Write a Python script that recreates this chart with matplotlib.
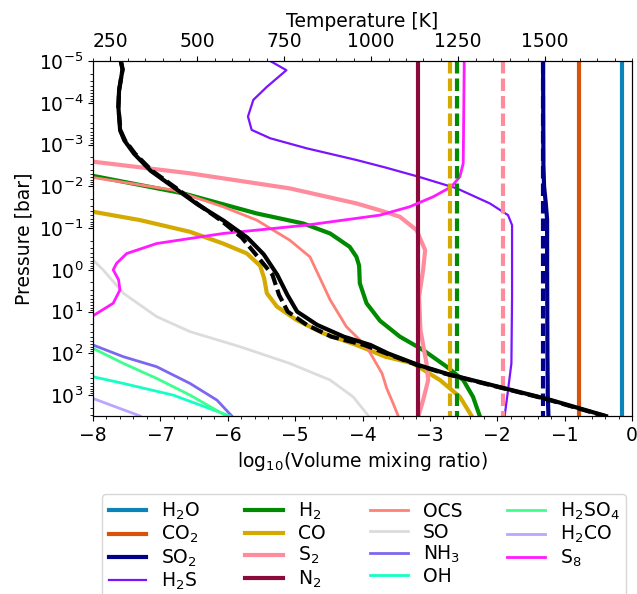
import numpy as np
import matplotlib
matplotlib.use("Agg")
import matplotlib.pyplot as plt
from matplotlib.ticker import MultipleLocator, LogLocator, NullFormatter

plt.rcParams['font.family'] = ['DejaVu Sans']
plt.rcParams['font.size'] = 13.5

# ---------------- data (log10 VMR vs log10 P[bar]) ----------------
names = ["H$_2$O", "CO$_2$", "SO$_2$", "H$_2$S", "H$_2$", "CO", "S$_2$", "N$_2$",
         "OCS", "SO", "NH$_3$", "OH", "H$_2$SO$_4$", "H$_2$CO", "S$_8$"]
colors = ["#0b84b8", "#d9520b", "#00008b", "#7a14ff", "#008a00", "#d4aa00", "#ff8c9c", "#8a0a3c",
          "#ff8078", "#dcdcdc", "#7b68ee", "#14ffc4", "#3cff90", "#bba5ff", "#ff1aff"]
widths = [3, 3, 3, 1.6, 3, 3, 3, 3, 2, 2, 2, 2, 2, 2, 2]

h2o_logp = [-5, 3.5]
h2o_vmr = [-0.15, -0.15]
co2_logp = [-5, 3.5]
co2_vmr = [-0.79, -0.79]
so2_logp = [-5, -2.5, -2.0, -1.6, -1.2, 0.0, 2.0, 3.0, 3.5]
so2_vmr = [-1.32, -1.315, -1.305, -1.28, -1.26, -1.26, -1.255, -1.25, -1.24]
h2s_logp = [-5, -4.78, -4.38, -4.07, -3.67, -3.35, -3.15, -2.91, -2.63, -2.45, -2.23, -1.95,
            -1.59, -1.31, -1.07, 0.64, 2.24, 2.88, 3.5]
h2s_vmr = [-5.37, -5.13, -5.42, -5.62, -5.70, -5.645, -5.37, -4.83, -4.09, -3.66, -3.17, -2.60,
           -2.11, -1.84, -1.78, -1.78, -1.79, -1.84, -1.89]
h2_logp = [-2.25, -1.83, -1.35, -1.11, -0.87, -0.55, -0.31, -0.10, 0.32, 0.80, 1.22, 1.60,
           1.92, 2.32, 2.64, 3.04, 3.5]
h2_vmr = [-8.0, -6.66, -5.57, -4.88, -4.48, -4.19, -4.09, -4.05, -4.04, -3.94, -3.74, -3.445,
          -3.10, -2.75, -2.505, -2.36, -2.26]
co_logp = [-1.39, -1.19, -0.91, -0.63, -0.395, -0.10, 0.20, 0.56, 0.88, 1.20, 1.52, 1.80,
           2.08, 2.24, 2.64, 3.04, 3.5]
co_vmr = [-8.0, -7.30, -6.56, -6.07, -5.72, -5.52, -5.46, -5.42, -5.27, -4.98, -4.58, -4.09,
          -3.66, -3.25, -2.85, -2.555, -2.38]
s2_logp = [-2.59, -2.31, -1.95, -1.59, -1.40, -1.27, -0.95, -0.47, 0.0, 0.64, 1.44, 2.24,
           2.64, 3.12, 3.5]
s2_vmr = [-8.0, -6.56, -5.08, -4.09, -3.69, -3.445, -3.197, -3.07, -3.10, -3.16, -3.14, -3.05,
          -3.025, -3.10, -3.17]
n2_logp = [-5, 3.5]
n2_vmr = [-3.18, -3.18]
ocs_logp = [-2.21, -1.91, -1.51, -1.19, -0.71, -0.31, 0.10, 0.72, 1.36, 1.84, 2.48, 2.84,
            3.20, 3.5]
ocs_vmr = [-8.0, -6.81, -6.07, -5.57, -5.08, -4.78, -4.66, -4.48, -4.24, -3.94, -3.71, -3.64,
           -3.545, -3.47]
so_logp = [-0.235, 0.0, 0.56, 1.12, 1.48, 1.84, 2.24, 2.64, 3.04, 3.5]
so_vmr = [-8.0, -7.85, -7.55, -7.055, -6.56, -5.82, -5.08, -4.48, -4.14, -3.91]
nh3_logp = [1.80, 2.08, 2.32, 2.72, 3.12, 3.5]
nh3_vmr = [-8.0, -7.55, -7.055, -6.56, -6.16, -5.94]
oh_logp = [2.56, 2.72, 3.0, 3.5]
oh_vmr = [-8.0, -7.55, -6.81, -5.97]
h2so4_logp = [1.88, 2.24, 2.60, 3.0, 3.5]
h2so4_vmr = [-8.0, -7.55, -7.055, -6.56, -6.02]
h2co_logp = [3.08, 3.5]
h2co_vmr = [-8.0, -7.30]
s8_logp = [-5, -2.55, -2.23, -1.99, -1.75, -1.51, -1.31, -1.07, -0.87, -0.63, -0.39, -0.155,
           0.0, 0.24, 0.48, 0.80, 1.10]
s8_vmr = [-2.49, -2.505, -2.555, -2.68, -2.95, -3.30, -3.74, -4.83, -6.07, -7.055, -7.50, -7.65,
          -7.70, -7.62, -7.60, -7.70, -8.0]

species_logp = [h2o_logp, co2_logp, so2_logp, h2s_logp, h2_logp, co_logp, s2_logp, n2_logp,
                ocs_logp, so_logp, nh3_logp, oh_logp, h2so4_logp, h2co_logp, s8_logp]
species_vmr = [h2o_vmr, co2_vmr, so2_vmr, h2s_vmr, h2_vmr, co_vmr, s2_vmr, n2_vmr,
               ocs_vmr, so_vmr, nh3_vmr, oh_vmr, h2so4_vmr, h2co_vmr, s8_vmr]

# constant (dashed) reference abundances
dashed_names = ["CO", "H2", "S2", "SO2"]
dashed_vmr = [-2.70, -2.59, -1.92, -1.32]
dashed_colors = ["#d4aa00", "#008a00", "#ff8c9c", "#00008b"]

# temperature profiles (K) vs log10 P
t_logp = [-5, -4.8, -4.5, -4.3, -3.9, -3.34, -3.1, -2.78, -2.37, -1.97, -1.57, -1.17, -0.77,
          -0.37, 0.12, 0.6, 1.0, 1.32, 1.6, 1.8, 2.0, 2.28, 2.49, 2.85, 3.09, 3.5]
t_solid = [280, 285, 279, 275, 273, 278, 290, 318, 366, 433, 500, 577, 644,
           691, 730, 759, 787, 845, 921, 998, 1048, 1136, 1218, 1390, 1505, 1675]
t_dashed = [280, 285, 279, 275, 273, 279, 292, 321, 370, 437, 502, 570, 628,
            668, 716, 735, 760, 815, 885, 980, 1043, 1132, 1214, 1386, 1501, 1671]

# ---------------- figure ----------------
fig = plt.figure(figsize=(6.37, 5.94), dpi=100)
ax = fig.add_axes([93 / 637, 1 - 416 / 594, 539 / 637, 355 / 594])

for nm, c, lw, lp, vm in zip(names, colors, widths, species_logp, species_vmr):
    ax.plot(vm, 10.0 ** np.array(lp), color=c, lw=lw, label=nm)

for v, c in zip(dashed_vmr, dashed_colors):
    ax.plot([v, v], [1e-5, 10 ** 3.5], color=c, lw=3, dashes=(3, 1.2))

ax.set_yscale('log')
ax.set_ylim(10 ** 3.5, 1e-5)
ax.set_xlim(-8, 0)
ax.set_xticks(np.arange(-8, 1, 1))
ax.xaxis.set_minor_locator(MultipleLocator(0.2))
ax.yaxis.set_major_locator(LogLocator(base=10, numticks=20))
ax.yaxis.set_minor_locator(LogLocator(base=10, subs=np.arange(2, 10), numticks=100))
ax.yaxis.set_minor_formatter(NullFormatter())
ax.set_xlabel('log$_{10}$(Volume mixing ratio)')
ax.set_ylabel('Pressure [bar]')

ax2 = ax.twiny()
ax2.plot(t_solid, 10.0 ** np.array(t_logp), color='black', lw=3)
ax2.plot(t_dashed, 10.0 ** np.array(t_logp), color='black', lw=3, dashes=(3, 1.2))
ax2.set_xlim(200, 1750)
ax2.set_xticks([250, 500, 750, 1000, 1250, 1500])
ax2.xaxis.set_minor_locator(MultipleLocator(50))
ax2.set_xlabel('Temperature [K]')
ax2.set_ylim(10 ** 3.5, 1e-5)

ax.legend(loc='upper center', bbox_to_anchor=(0.503, -0.221), ncol=4,
          fontsize=13.5, handlelength=2.0, labelspacing=0.1, columnspacing=2.4,
          borderpad=0.35, handletextpad=0.8, borderaxespad=0.0)

fig.savefig('out.png', dpi=100)
